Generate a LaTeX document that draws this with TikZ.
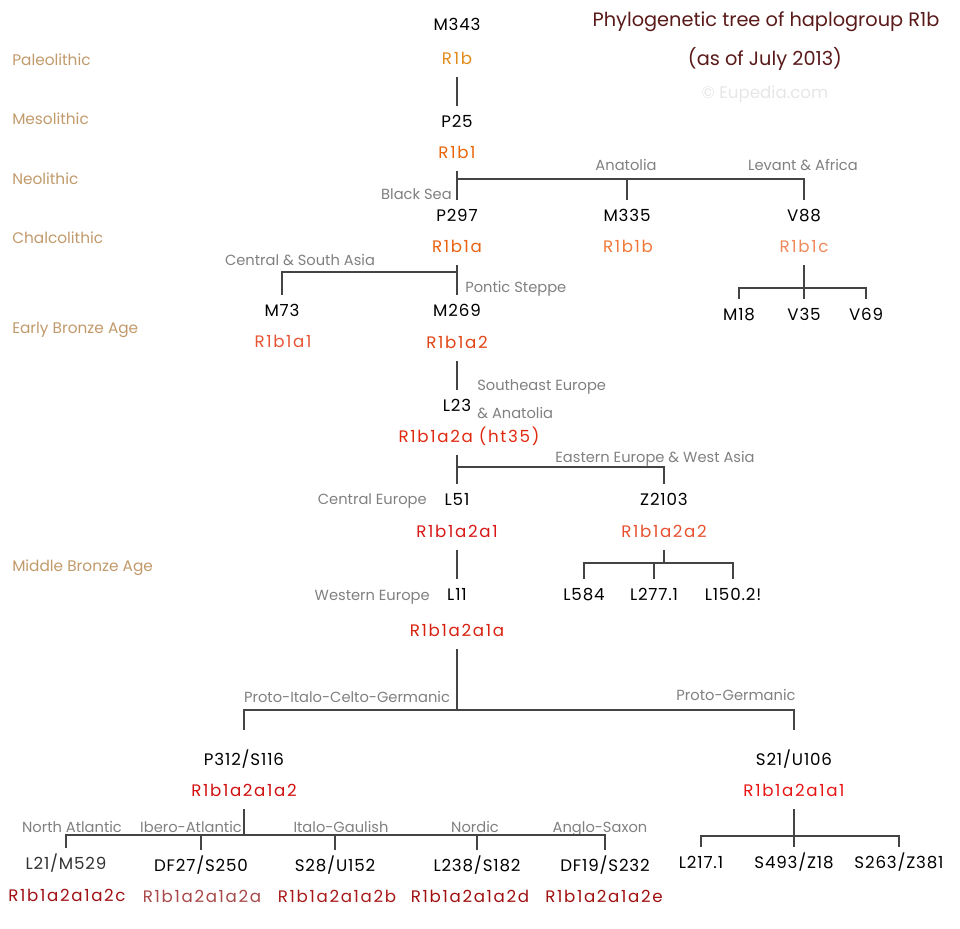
\documentclass[tikz,border=0pt]{standalone}
\usepackage{fontspec}
\setmainfont{Poppins}
\usepackage{tikz}
\definecolor{eracol}{HTML}{C19A6B}
\definecolor{titlecol}{HTML}{5A1A1A}
\definecolor{regioncol}{HTML}{808080}
\definecolor{linecol}{HTML}{444444}
\definecolor{markcol}{HTML}{E6E6E6}
\tikzstyle{snp}=[inner sep=0pt, text height=8.75pt, text depth=0pt, outer sep=7.6pt, font=\fontsize{12.5}{14}\selectfont\addfontfeatures{LetterSpace=5}, text=black]
\tikzstyle{hg}=[snp, outer sep=9.1pt, font=\fontsize{12.5}{14}\selectfont\addfontfeatures{LetterSpace=10}]
\tikzstyle{region}=[inner sep=0pt, text height=7.7pt, text depth=0pt, font=\fontsize{11}{13}\selectfont, text=regioncol]
\tikzstyle{era}=[anchor=west, inner sep=0pt, text height=8pt, text depth=0pt, font=\fontsize{11.5}{13}\selectfont, text=eracol]
\tikzstyle{link}=[draw=linecol, line width=1.4pt]
\begin{document}
\begin{tikzpicture}[x=0.75pt, y=-0.75pt]
\useasboundingbox (0,0) rectangle (960,928);
% title
\node[font=\fontsize{14.5}{16}\selectfont, text=titlecol] (title0) at (766,22){Phylogenetic tree of haplogroup R1b};
\node[font=\fontsize{14.5}{16}\selectfont, text=titlecol] (title1) at (765,59){(as of July 2013)};
\node[font=\fontsize{12.5}{14}\selectfont, text=markcol] (title2) at (765,94){© Eupedia.com};
% periods
\node[era] (era0) at (12,60){Paleolithic};
\node[era] (era1) at (12,119){Mesolithic};
\node[era] (era2) at (12,179){Neolithic};
\node[era] (era3) at (12,238){Chalcolithic};
\node[era] (era4) at (12,328){Early Bronze Age};
\node[era] (era5) at (12,566){Middle Bronze Age};
% main line
\node[snp] (snpM343) at (457,25){M343};
\node[hg, text={rgb,255:red,224;green,138;blue,26}] (hgR1b) at (457,59){R1b};
\node[snp] (snpP25) at (457,122){P25};
\node[hg, text={rgb,255:red,232;green,101;blue,10}] (hgR1b1) at (457,153){R1b1};
\node[snp] (snpP297) at (457,216){P297};
\node[hg, text={rgb,255:red,232;green,98;blue,15}] (hgR1b1a) at (457,247){R1b1a};
\node[snp] (snpM269) at (457,311){M269};
\node[hg, text={rgb,255:red,224;green,69;blue,21}] (hgR1b1a2) at (457,343){R1b1a2};
\node[snp] (snpL23) at (457,406){L23};
\node[hg, text={rgb,255:red,224;green,42;blue,16}] (hgR1b1a2a) at (469,437){R1b1a2a (ht35)};
\node[snp] (snpL51) at (457,500){L51};
\node[hg, text={rgb,255:red,216;green,24;blue,24}] (hgR1b1a2a1) at (457,532){R1b1a2a1};
\node[snp] (snpL11) at (457,595){L11};
\node[hg, text={rgb,255:red,216;green,32;blue,16}] (hgR1b1a2a1a) at (457,631){R1b1a2a1a};
% side branches
\node[snp] (snpM335) at (627,216){M335};
\node[hg, text={rgb,255:red,240;green,120;blue,56}] (hgR1b1b) at (628,247){R1b1b};
\node[snp] (snpV88) at (804,216){V88};
\node[hg, text={rgb,255:red,240;green,138;blue,90}] (hgR1b1c) at (804,247){R1b1c};
\node[snp] (snpM18) at (739,315){M18};
\node[snp] (snpV35) at (804,315){V35};
\node[snp] (snpV69) at (866,315){V69};
\node[snp] (snpM73) at (282,311){M73};
\node[hg, text={rgb,255:red,232;green,85;blue,53}] (hgR1b1a1) at (283,342){R1b1a1};
\node[snp] (snpZ2103) at (664,500){Z2103};
\node[hg, text={rgb,255:red,232;green,80;blue,48}] (hgR1b1a2a2) at (664,532){R1b1a2a2};
\node[snp] (snpL584) at (584,595){L584};
\node[snp] (snpL2771) at (654,595){L277.1};
\node[snp] (snpL1502) at (733,595){L150.2!};
\node[snp, outer sep=18pt] (snpP312) at (244,760){P312/S116};
\node[hg, text={rgb,255:red,208;green,16;blue,16}] (hgR1b1a2a1a2) at (244,791){R1b1a2a1a2};
\node[snp, outer sep=18pt] (snpS21) at (794,760){S21/U106};
\node[hg, text={rgb,255:red,232;green,21;blue,21}] (hgR1b1a2a1a1) at (794,791){R1b1a2a1a1};
% leaves
\node[snp, text={rgb,255:red,51;green,51;blue,51}] (snpL21) at (66,864){L21/M529};
\node[hg, text={rgb,255:red,160;green,16;blue,21}] (hgR1b1a2a1a2c) at (67,896){R1b1a2a1a2c};
\node[snp] (snpDF27) at (201,866){DF27/S250};
\node[hg, text={rgb,255:red,168;green,72;blue,72}] (hgR1b1a2a1a2a) at (202,897){R1b1a2a1a2a};
\node[snp] (snpS28) at (335,866){S28/U152};
\node[hg, text={rgb,255:red,168;green,26;blue,26}] (hgR1b1a2a1a2b) at (337,897){R1b1a2a1a2b};
\node[snp] (snpL238) at (477,866){L238/S182};
\node[hg, text={rgb,255:red,160;green,16;blue,16}] (hgR1b1a2a1a2d) at (470,897){R1b1a2a1a2d};
\node[snp] (snpDF19) at (605,866){DF19/S232};
\node[hg, text={rgb,255:red,160;green,16;blue,16}] (hgR1b1a2a1a2e) at (604,897){R1b1a2a1a2e};
\node[snp] (snpL217) at (701,863){L217.1};
\node[snp] (snpS493) at (794,863){S493/Z18};
\node[snp] (snpS263) at (899,863){S263/Z381};
% regions
\node[region, anchor=east] (reg0) at (452,194){Black Sea};
\node[region] (reg1) at (626,165){Anatolia};
\node[region] (reg2) at (803,165){Levant \& Africa};
\node[region] (reg3) at (300,260){Central \& South Asia};
\node[region, anchor=west] (reg4) at (465,287){Pontic Steppe};
\node[region, anchor=west] (reg5) at (477,385){Southeast Europe};
\node[region, anchor=west] (reg6) at (477,413){\& Anatolia};
\node[region] (reg7) at (655,457){Eastern Europe \& West Asia};
\node[region, anchor=east] (reg8) at (427,499){Central Europe};
\node[region, anchor=east] (reg9) at (430,595){Western Europe};
\node[region] (reg10) at (347,697){Proto-Italo-Celto-Germanic};
\node[region] (reg11) at (736,695){Proto-Germanic};
\node[region] (reg12) at (72,827){North Atlantic};
\node[region] (reg13) at (191,827){Ibero-Atlantic};
\node[region] (reg14) at (341,827){Italo-Gaulish};
\node[region] (reg15) at (475,827){Nordic};
\node[region] (reg16) at (600,827){Anglo-Saxon};
% junctions
\coordinate (jR1b1) at (457,179);
\coordinate (jR1b1a) at (457,272);
\coordinate (jR1b1c) at (804,288);
\coordinate (jR1b1a2a) at (457,467);
\coordinate (jR1b1a2a2) at (664,563);
\coordinate (jR1b1a2a1a) at (457,710);
\coordinate (jR1b1a2a1a2) at (244,835);
\coordinate (jR1b1a2a1a1) at (794,836);
% links
\draw[link](hgR1b) -- (snpP25);
\draw[link](hgR1b1) -- (snpP297);
\draw[link](jR1b1) -| (snpM335);
\draw[link](jR1b1) -| (snpV88);
\draw[link](hgR1b1c) -- (snpV35);
\draw[link](jR1b1c) -| (snpM18);
\draw[link](jR1b1c) -| (snpV69);
\draw[link](hgR1b1a) -- (snpM269);
\draw[link](jR1b1a) -| (snpM73);
\draw[link](hgR1b1a2) -- (snpL23);
\draw[link](hgR1b1a2a.south -| jR1b1a2a) -- (snpL51);
\draw[link](jR1b1a2a) -| (snpZ2103);
\draw[link](hgR1b1a2a2) -- (jR1b1a2a2);
\draw[link](jR1b1a2a2) -| (snpL584);
\draw[link](jR1b1a2a2) -| (snpL2771);
\draw[link](jR1b1a2a2) -| (snpL1502);
\draw[link](hgR1b1a2a1) -- (snpL11);
\draw[link](hgR1b1a2a1a) -- (jR1b1a2a1a);
\draw[link](jR1b1a2a1a) -| (snpP312);
\draw[link](jR1b1a2a1a) -| (snpS21);
\draw[link](hgR1b1a2a1a2) -- (jR1b1a2a1a2);
\draw[link](jR1b1a2a1a2) -| (snpL21);
\draw[link](jR1b1a2a1a2) -| (snpDF27);
\draw[link](jR1b1a2a1a2) -| (snpS28);
\draw[link](jR1b1a2a1a2) -| (snpL238);
\draw[link](jR1b1a2a1a2) -| (snpDF19);
\draw[link](hgR1b1a2a1a1) -- (snpS493);
\draw[link](jR1b1a2a1a1) -| (snpL217);
\draw[link](jR1b1a2a1a1) -| (snpS263);
\end{tikzpicture}
\end{document}
